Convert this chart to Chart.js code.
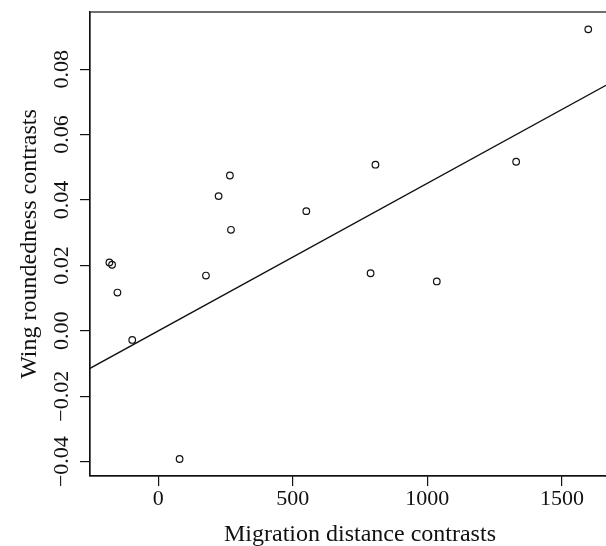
<!DOCTYPE html>
<html lang="en">
<head>
  <meta charset="UTF-8">
  <title>Wing roundedness vs migration distance contrasts</title>
  <script src="https://cdn.jsdelivr.net/npm/chart.js"></script>
  <style>
    body { margin: 0; padding: 0; background: white; }
    #wrap { width: 606px; height: 546px; position: relative; }
  </style>
</head>
<body>
  <div id="wrap"><canvas id="scatterChart" width="606" height="546"></canvas></div>

  <script>
    // data
    const migrationX = [-182, -172, -152, -97, 79, 177, 224, 266, 270, 550, 789, 807, 1035, 1330, 1598];
    const wingY = [0.0209, 0.0202, 0.0117, -0.0028, -0.0392, 0.0169, 0.0412, 0.0475, 0.0309, 0.0366, 0.0176, 0.0508, 0.0151, 0.0517, 0.0922];

    // fitted line ends (through origin)
    const lineX = [-254, 1664];
    const lineY = [-0.0115, 0.0751];

    const xTicks = [0, 500, 1000, 1500];
    const xTickLabels = ['0', '500', '1000', '1500'];
    const yTicks = [-0.04, -0.02, 0, 0.02, 0.04, 0.06, 0.08];
    const yTickLabels = ['\u22120.04', '\u22120.02', '0.00', '0.02', '0.04', '0.06', '0.08'];
    const xTitle = 'Migration distance contrasts';

    const ink = '#111';
    const serif = "'Liberation Serif', 'DejaVu Serif', serif";

    // box around the plot, rotated y tick labels and x title (R style;
    // the original figure is cropped on the right so the title sits off-centre)
    const boxAndLabels = {
      id: 'boxAndLabels',
      afterDraw(chart) {
        const { ctx, chartArea: a } = chart;
        ctx.save();
        ctx.strokeStyle = ink;
        ctx.lineWidth = 1.2;
        ctx.strokeRect(a.left, a.top, a.right - a.left + 6, a.bottom - a.top);

        const ys = chart.scales.y;
        ctx.fillStyle = ink;
        ctx.font = '22px ' + serif;
        ctx.textAlign = 'center';
        ctx.textBaseline = 'alphabetic';
        yTicks.forEach((v, i) => {
          ctx.save();
          ctx.translate(68, ys.getPixelForValue(v));
          ctx.rotate(-Math.PI / 2);
          ctx.fillText(yTickLabels[i], 0, 0);
          ctx.restore();
        });

        ctx.font = '24px ' + serif;
        ctx.fillText(xTitle, 360, 541);
        ctx.restore();
      }
    };

    const ctx = document.getElementById('scatterChart').getContext('2d');
    new Chart(ctx, {
      type: 'scatter',
      data: {
        datasets: [
          {
            label: 'Contrasts',
            data: migrationX.map((x, i) => ({ x: x, y: wingY[i] })),
            pointStyle: 'circle',
            pointRadius: 3.3,
            pointBorderWidth: 1.2,
            pointBorderColor: ink,
            pointBackgroundColor: 'rgba(0,0,0,0)',
            showLine: false
          },
          {
            label: 'Fit',
            type: 'line',
            data: lineX.map((x, i) => ({ x: x, y: lineY[i] })),
            borderColor: ink,
            borderWidth: 1.4,
            pointRadius: 0,
            fill: false
          }
        ]
      },
      options: {
        responsive: false,
        animation: false,
        devicePixelRatio: 1,
        layout: { autoPadding: false, padding: { top: 12, right: 0, left: 0, bottom: 0 } },
        plugins: {
          legend: { display: false },
          tooltip: { enabled: false }
        },
        scales: {
          x: {
            type: 'linear',
            min: -254,
            max: 1664,
            afterFit: s => { s.height = 70; },
            afterBuildTicks: s => { s.ticks = xTicks.map(v => ({ value: v })); },
            grid: { display: true, drawOnChartArea: false, drawTicks: true, tickLength: 10, color: ink, lineWidth: 1.2 },
            border: { display: true, color: ink, width: 1.2 },
            ticks: {
              padding: 0,
              color: ink,
              maxRotation: 0,
              autoSkip: false,
              font: { family: serif, size: 22, lineHeight: 1.2 },
              callback: (v, i) => xTickLabels[i]
            },
            title: { display: false }
          },
          y: {
            type: 'linear',
            min: -0.0444,
            max: 0.0975,
            afterFit: s => { s.width = 90; },
            afterBuildTicks: s => { s.ticks = yTicks.map(v => ({ value: v })); },
            grid: { display: true, drawOnChartArea: false, drawTicks: true, tickLength: 10, color: ink, lineWidth: 1.2 },
            border: { display: true, color: ink, width: 1.2 },
            ticks: { display: false },
            title: {
              display: true,
              text: 'Wing roundedness contrasts',
              color: ink,
              font: { family: serif, size: 24, lineHeight: 1 },
              padding: { top: 18, bottom: 0 }
            }
          }
        }
      },
      plugins: [boxAndLabels]
    });
  </script>
</body>
</html>
